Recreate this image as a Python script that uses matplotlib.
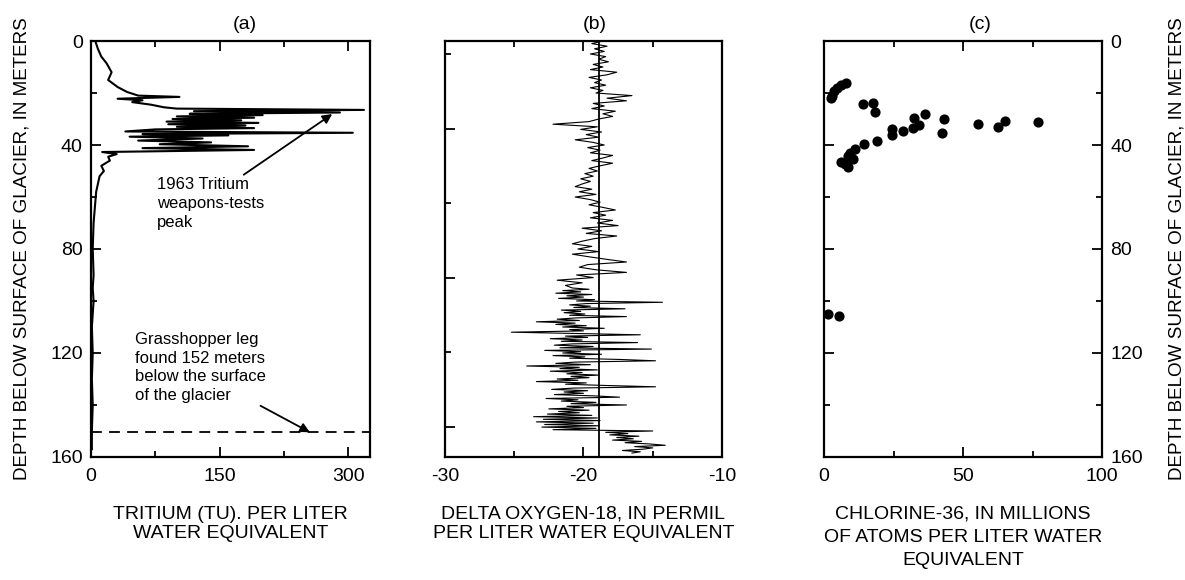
import numpy as np
import matplotlib
matplotlib.use("Agg")
import matplotlib.pyplot as plt

plt.rcParams['font.family'] = ['Liberation Sans', 'DejaVu Sans']
plt.rcParams['axes.unicode_minus'] = False

# (a) tritium profile
trit_depth = [0, 3, 6, 8.5, 12, 15, 17.7, 19.6, 21.0, 21.5, 22.2, 22.8, 23.5, 24.5, 25.5,
              26.0, 26.5, 27.0, 27.5, 28.0, 28.5, 29.0, 29.5, 30.0, 30.5, 31.0, 31.5, 32.0,
              32.5, 33.0, 33.5, 34.0, 34.8, 35.3, 35.8, 36.3, 36.8, 37.5, 38.3, 39.0, 39.7,
              40.5, 41.2, 41.9, 42.7, 43.5, 44.5, 46, 48, 50, 52, 55, 58, 62, 66, 70, 80, 90,
              95, 100, 105, 110, 120, 130, 140, 150, 157]
trit_tu = [5, 8, 12, 18, 24, 20, 31, 42, 55, 103, 31, 60, 48, 70, 85,
           100, 318, 120, 290, 115, 200, 100, 190, 95, 175, 88, 195, 90,
           180, 100, 190, 75, 40, 305, 60, 160, 45, 130, 55, 140, 80,
           183, 60, 190, 13, 30, 20, 22, 12, 15, 10, 8, 6, 5, 4, 3, 2, 3,
           2, 3, 2, 1, 2, 1, 2, 1, 1]
grasshopper_depth = 150.5

# (b) delta oxygen-18
o18_depth = list(np.arange(0, 95, 1.0)) + list(np.arange(95, 150, 0.5)) + list(np.arange(150, 159, 0.5))
o18_vals = [
    -18.6, -19.4, -18.3, -19.2, -18.5, -19.5, -18.4, -18.9, -18.2, -19.3,
    -18.6, -19.5, -17.6, -18.3, -19.6, -18.7, -19.2, -18.4, -19.5, -18.6,
    -19.1, -16.5, -18.3, -16.9, -19.3, -18.5, -19.4, -17.7, -18.6, -17.9,
    -18.9, -19.6, -22.2, -19.0, -20.2, -18.7, -19.8, -18.9, -20.6, -19.3,
    -18.5, -19.7, -18.8, -19.5, -17.9, -18.6, -19.4, -17.9, -18.8, -19.6,
    -19.0, -19.9, -19.3, -20.2, -19.5, -20.1, -20.6, -19.4, -20.3, -19.1,
    -20.6, -19.5, -18.8, -19.6, -18.6, -17.7, -19.3, -18.4, -19.5, -17.9,
    -19.0, -17.5, -20.1, -18.7, -19.8, -17.6, -19.2, -20.1, -20.8, -19.4,
    -20.4, -18.9, -20.8, -19.6, -18.3, -16.9, -19.7, -20.3, -19.1, -16.9,
    -20.5, -19.3, -21.9, -20.1, -21.3,
    -20.8, -19.6, -21.5, -20.2, -22.0, -19.4, -21.2, -20.0, -21.8, -19.2,
    -20.5, -14.3, -19.8, -21.0, -19.5, -20.7, -17.0, -21.6, -20.2, -21.4,
    -19.9, -21.0, -16.9, -20.5, -21.9, -20.3, -23.4, -20.6, -22.0, -19.8,
    -21.5, -18.5, -21.0, -20.0, -25.2, -20.4, -15.9, -21.3, -19.7, -22.4,
    -20.1, -21.6, -16.1, -20.8, -22.1, -19.3, -21.7, -15.1, -22.8, -20.2,
    -21.5, -18.7, -22.2, -19.9, -21.0, -17.3, -14.8, -20.6, -22.0, -19.5,
    -24.1, -20.3, -21.7, -19.0, -22.4, -20.1, -21.2, -18.9, -20.9, -19.6,
    -21.9, -20.4, -23.4, -19.8, -21.3, -18.4, -14.8, -20.7, -22.3, -19.7,
    -21.4, -20.0, -22.1, -19.2, -17.4, -22.7, -20.4, -21.6, -19.1, -20.9,
    -16.9, -21.2, -20.0, -22.5, -19.6, -21.8, -20.3, -22.6, -19.4, -23.6,
    -19.0, -22.9, -18.8, -23.4, -19.3, -22.8, -18.9, -23.0, -19.1, -22.2,
    -15.0, -18.4, -16.8, -18.1, -16.0, -17.6, -16.4, -17.9, -15.8, -17.0,
    -15.2, -14.1, -16.3, -15.0, -15.7, -17.2, -15.9, -16.5]
o18_ref = -18.9

# (c) chlorine-36
cl_vals = [2.8, 3.4, 4.6, 6.1, 7.8, 2.4, 14.1, 17.5, 18.3, 36.3, 32.5, 43.2, 55.2,
           62.4, 65.2, 77.1, 34.3, 32.1, 24.6, 24.6, 28.3, 42.3, 19.2, 14.4, 11.2,
           9.4, 8.7, 10.3, 6.1, 7.5, 8.5, 1.6, 5.5]
cl_depth = [21.1, 19.2, 17.9, 17.0, 16.3, 21.8, 24.3, 23.7, 27.3, 28.2, 29.7, 30.1, 31.8,
            32.9, 30.9, 31.1, 32.4, 33.5, 33.7, 36.3, 34.8, 35.2, 38.5, 39.7, 41.4,
            42.9, 44.2, 45.5, 46.5, 47.2, 48.5, 105.1, 105.7]

ylabel = 'DEPTH BELOW SURFACE OF GLACIER, IN METERS'
fs = 14

fig = plt.figure(figsize=(11.85, 5.8), dpi=100)
ax1 = fig.add_axes([0.0768, 0.2121, 0.2354, 0.7172])
ax2 = fig.add_axes([0.3755, 0.2121, 0.2338, 0.7172])
ax3 = fig.add_axes([0.6954, 0.2121, 0.2346, 0.7172])

for ax in (ax1, ax2, ax3):
    ax.set_ylim(160, 0)
    for s in ax.spines.values():
        s.set_linewidth(1.6)
    ax.tick_params(direction='in', which='both', labelsize=fs, width=1.3)
    ax.tick_params(axis='x', pad=8)
    ax.tick_params(which='major', length=7)
    ax.tick_params(which='minor', length=4)

# panel a
ax1.plot(trit_tu, trit_depth, color='black', lw=1.5)
ax1.axhline(grasshopper_depth, color='black', lw=1.3, ls=(0, (6, 4)))
ax1.set_xlim(0, 325)
ax1.set_xticks([0, 150, 300])
ax1.set_xticks([75, 225], minor=True)
ax1.set_yticks([0, 40, 80, 120, 160])
ax1.set_yticks([20, 60, 100, 140], minor=True)
ax1.tick_params(top=True, which='both')
ax1.tick_params(axis='y', pad=6)
ax1.set_ylabel(ylabel, fontsize=13.6, labelpad=14)
ax1.set_xlabel('TRITIUM (TU). PER LITER\nWATER EQUIVALENT', fontsize=fs, labelpad=15, linespacing=1.15)
ax1.text(0.55, 1.02, '(a)', transform=ax1.transAxes, ha='center', va='bottom', fontsize=fs)
ax1.annotate('1963 Tritium\nweapons-tests\npeak', xy=(281, 28.1), xytext=(77, 52.5),
             fontsize=12, ha='left', va='top', linespacing=1.3,
             arrowprops=dict(arrowstyle='-|>', color='black', lw=1.3, mutation_scale=14,
                             shrinkA=0, shrinkB=0, relpos=(0.77, 1.0)))
ax1.annotate('Grasshopper leg\nfound 152 meters\nbelow the surface\nof the glacier',
             xy=(255, grasshopper_depth), xytext=(51, 112),
             fontsize=12, ha='left', va='top', linespacing=1.3,
             arrowprops=dict(arrowstyle='-|>', color='black', lw=1.3, mutation_scale=14,
                             shrinkA=0, shrinkB=0, relpos=(0.76, 0.16)))

# panel b
ax2.plot(o18_vals, o18_depth, color='black', lw=0.8)
ax2.axvline(o18_ref, color='black', lw=1.3)
ax2.set_xlim(-30, -10)
ax2.set_xticks([-30, -20, -10])
ax2.set_xticks([-25, -15], minor=True)
ax2.set_yticks([33.7, 91.1, 148.5])
ax2.set_yticks([5, 62.4, 119.8], minor=True)
ax2.set_yticklabels([])
ax2.tick_params(top=True, which='both')
ax2.set_xlabel('DELTA OXYGEN-18, IN PERMIL\nPER LITER WATER EQUIVALENT', fontsize=fs, labelpad=15, linespacing=1.15)
ax2.text(0.54, 1.02, '(b)', transform=ax2.transAxes, ha='center', va='bottom', fontsize=fs)

# panel c
ax3.scatter(cl_vals, cl_depth, s=40, color='black', zorder=3)
ax3.set_xlim(0, 100)
ax3.set_xticks([0, 50, 100])
ax3.set_xticks([25, 75], minor=True)
ax3.set_yticks([0, 40, 80, 120, 160])
ax3.set_yticks([20, 60, 100, 140], minor=True)
ax3.tick_params(top=True, right=True, which='both')
ax3.tick_params(axis='y', labelleft=False, labelright=True, pad=6)
ax3.yaxis.set_label_position('right')
ax3.set_ylabel(ylabel, fontsize=13.6, labelpad=18, rotation=90)
ax3.set_xlabel('CHLORINE-36, IN MILLIONS\nOF ATOMS PER LITER WATER\nEQUIVALENT', fontsize=fs, labelpad=15, linespacing=1.45)
ax3.text(0.56, 1.02, '(c)', transform=ax3.transAxes, ha='center', va='bottom', fontsize=fs)

fig.savefig('out.png', dpi=100)
